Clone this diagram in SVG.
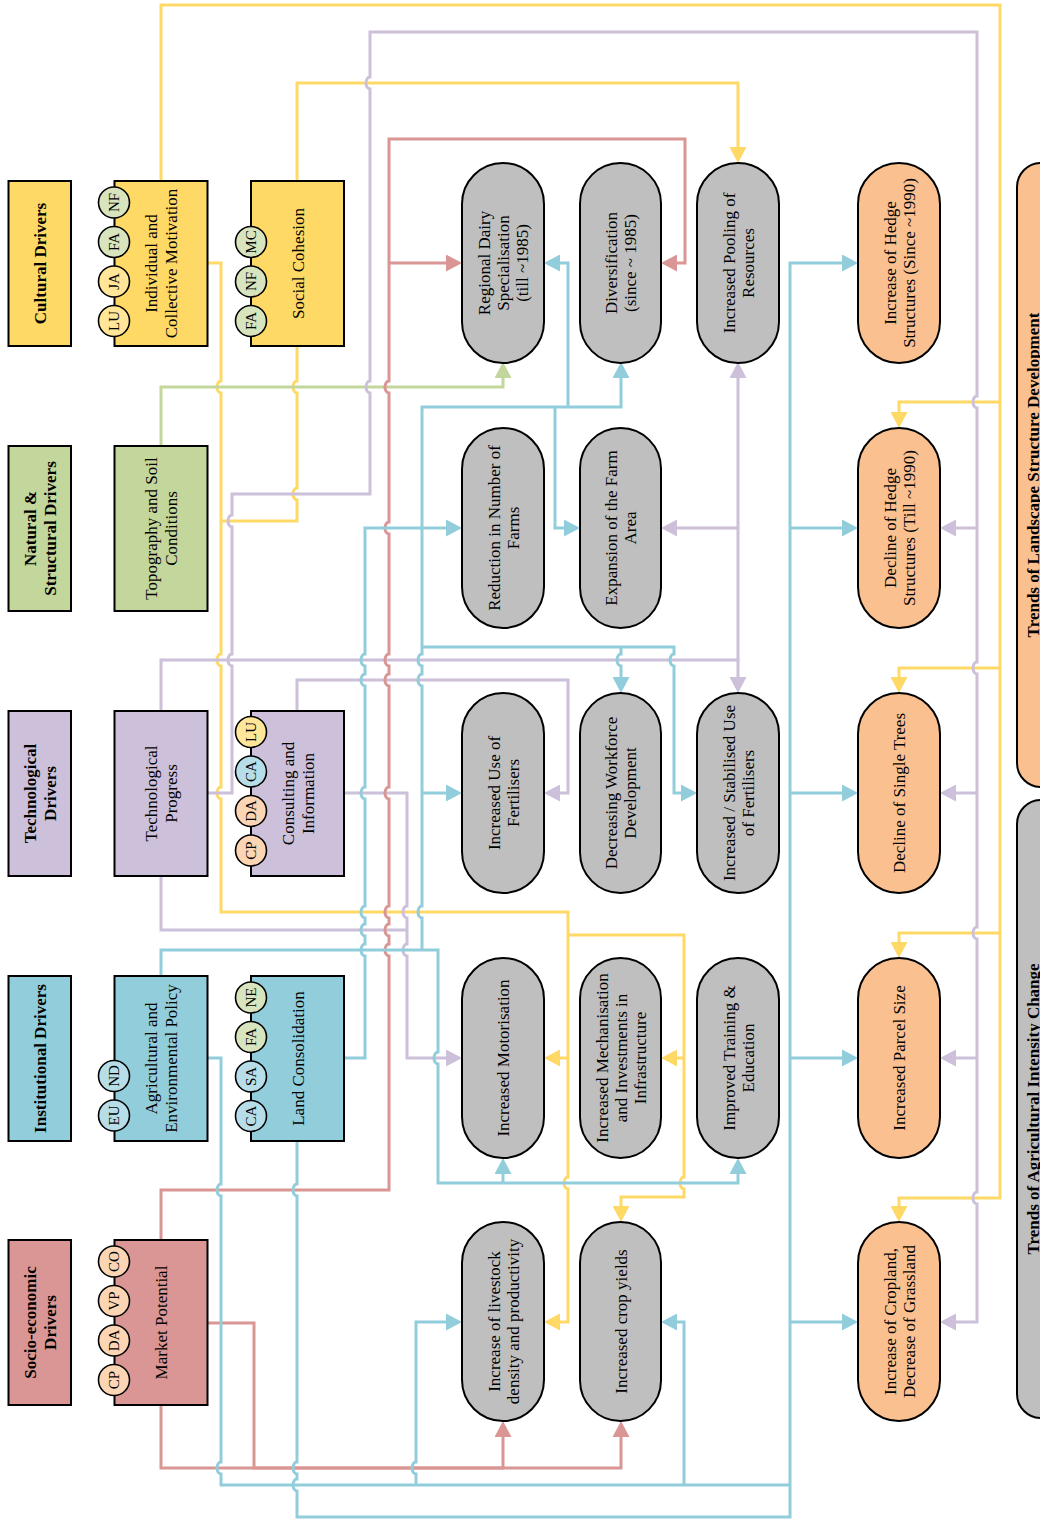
<svg xmlns="http://www.w3.org/2000/svg" width="1040" height="1537" viewBox="0 0 1040 1537">
<style>
.t{font-family:"Liberation Serif","Times New Roman",serif;font-size:17px;fill:#000;text-anchor:middle}
.b{font-weight:bold}
.s{font-size:15px}
.box{stroke:#000;stroke-width:2}
.pill{stroke:#000;stroke-width:2}
.cir{stroke:#000;stroke-width:1.6}
.c{fill:none;stroke-width:3;stroke-linejoin:miter}
.cy{stroke:#FFD966}.cp{stroke:#CCC0DA}.cg{stroke:#C3D69B}.cb{stroke:#92CDDC}.cr{stroke:#D99694}
</style>
<defs>
<marker id="aY" viewBox="0 0 16 17" refX="6" refY="8.5" markerWidth="16" markerHeight="17" markerUnits="userSpaceOnUse" orient="auto"><path d="M0,0 L16,8.5 L0,17 z" fill="#FFD966"/></marker>
<marker id="aP" viewBox="0 0 16 17" refX="6" refY="8.5" markerWidth="16" markerHeight="17" markerUnits="userSpaceOnUse" orient="auto"><path d="M0,0 L16,8.5 L0,17 z" fill="#CCC0DA"/></marker>
<marker id="aG" viewBox="0 0 16 17" refX="6" refY="8.5" markerWidth="16" markerHeight="17" markerUnits="userSpaceOnUse" orient="auto"><path d="M0,0 L16,8.5 L0,17 z" fill="#C3D69B"/></marker>
<marker id="aB" viewBox="0 0 16 17" refX="6" refY="8.5" markerWidth="16" markerHeight="17" markerUnits="userSpaceOnUse" orient="auto"><path d="M0,0 L16,8.5 L0,17 z" fill="#92CDDC"/></marker>
<marker id="aR" viewBox="0 0 16 17" refX="6" refY="8.5" markerWidth="16" markerHeight="17" markerUnits="userSpaceOnUse" orient="auto"><path d="M0,0 L16,8.5 L0,17 z" fill="#D99694"/></marker>
</defs>
<rect width="1040" height="1537" fill="#fff"/>

<g id="connectors">
<!-- yellow -->
<path class="c cy" marker-end="url(#aY)" d="M161,181 V5 H1000 V1198 H899 V1212"/>
<path class="c cy" marker-end="url(#aY)" d="M1000,402 H899 V418"/>
<path class="c cy" marker-end="url(#aY)" d="M1000,668 H899 V683"/>
<path class="c cy" marker-end="url(#aY)" d="M1000,933 H899 V948"/>
<path class="c cy" marker-end="url(#aY)" d="M297,181 V83 H738 V153"/>
<path class="c cy" marker-end="url(#aY)" d="M207,263 H221 V381 a4,6 0 0 0 0,12 V654 a4,6 0 0 0 0,12 V787 a4,6 0 0 0 0,12 V912 H568 V1177 a4,6 0 0 0 0,12 V1322 H554"/>
<path class="c cy" marker-end="url(#aY)" d="M568,1058 H554"/>
<path class="c cy" marker-end="url(#aY)" d="M568,935 H684 V1177 a4,6 0 0 0 0,12 V1197 H621 V1212"/>
<path class="c cy" marker-end="url(#aY)" d="M684,1058 H671"/>
<path class="c cy" d="M297,346 V381 a4,6 0 0 0 0,12 V488 a4,6 0 0 0 0,12 V521 H221"/>
<!-- green -->
<path class="c cg" marker-end="url(#aG)" d="M161,446 V387 H503 V372"/>
<!-- purple -->
<path class="c cp" marker-end="url(#aP)" d="M207,793 H232 V666 a4,6 0 0 1 0,-12 V527 a4,6 0 0 1 0,-12 V494 H370 V393 a4,6 0 0 1 0,-12 V89 a4,6 0 0 1 0,-12 V32 H977 V396 a4,6 0 0 0 0,12 V662 a4,6 0 0 0 0,12 V927 a4,6 0 0 0 0,12 V1192 a4,6 0 0 0 0,12 V1322 H950"/>
<path class="c cp" marker-end="url(#aP)" d="M977,528 H950"/>
<path class="c cp" marker-end="url(#aP)" d="M977,793 H950"/>
<path class="c cp" marker-end="url(#aP)" d="M977,1058 H950"/>
<path class="c cp" marker-end="url(#aP)" d="M161,711 V660 H738 V683"/>
<path class="c cp" marker-end="url(#aP)" d="M738,660 V372"/>
<path class="c cp" marker-end="url(#aP)" d="M738,528 H671"/>
<path class="c cp" marker-end="url(#aP)" d="M344,793 H407 V906 a4,6 0 0 0 0,12 V944 a4,6 0 0 0 0,12 V1058 H452"/>
<path class="c cp" d="M161,876 V930 H407"/>
<path class="c cp" marker-end="url(#aP)" d="M297,711 V680 H568 V793 H554"/>
<!-- red -->
<path class="c cr" marker-end="url(#aR)" d="M161,1240 V1190 H389 V956 a4,6 0 0 1 0,-12 V936 a4,6 0 0 1 0,-12 V918 a4,6 0 0 1 0,-12 V799 a4,6 0 0 1 0,-12 V686 a4,6 0 0 1 0,-12 V666 a4,6 0 0 1 0,-12 V534 a4,6 0 0 1 0,-12 V393 a4,6 0 0 1 0,-12 V139 H685 V263 H671"/>
<path class="c cr" marker-end="url(#aR)" d="M389,263 H452"/>
<path class="c cr" marker-end="url(#aR)" d="M207,1323 H254 V1468 H621 V1431"/>
<path class="c cr" marker-end="url(#aR)" d="M161,1405 V1468 H503 V1431"/>
<!-- blue -->
<path class="c cb" marker-end="url(#aB)" d="M161,976 V950 H438 V1052 a4,6 0 0 0 0,12 V1183 H738 V1168"/>
<path class="c cb" marker-end="url(#aB)" d="M503,1183 V1168"/>
<path class="c cb" marker-end="url(#aB)" d="M422,950 V918 a4,6 0 0 1 0,-12 V686 a4,6 0 0 1 0,-12 V666 a4,6 0 0 1 0,-12 V407 H621 V372"/>
<path class="c cb" marker-end="url(#aB)" d="M568,407 V263 H554"/>
<path class="c cb" marker-end="url(#aB)" d="M555,407 V528 H570"/>
<path class="c cb" marker-end="url(#aB)" d="M422,793 H452"/>
<path class="c cb" marker-end="url(#aB)" d="M422,647 H674 V654 a4,6 0 0 0 0,12 V793 H687"/>
<path class="c cb" marker-end="url(#aB)" d="M621,647 V654 a4,6 0 0 0 0,12 V683"/>
<path class="c cb" marker-end="url(#aB)" d="M344,1058 H365 V956 a4,6 0 0 1 0,-12 V936 a4,6 0 0 1 0,-12 V918 a4,6 0 0 1 0,-12 V799 a4,6 0 0 1 0,-12 V686 a4,6 0 0 1 0,-12 V666 a4,6 0 0 1 0,-12 V528 H452"/>
<path class="c cb" d="M207,1058 H221 V1184 a4,6 0 0 0 0,12 V1462 a4,6 0 0 0 0,12 V1485 H790"/>
<path class="c cb" marker-end="url(#aB)" d="M416,1485 V1474 a4,6 0 0 1 0,-12 V1322 H452"/>
<path class="c cb" marker-end="url(#aB)" d="M684,1485 V1322 H671"/>
<path class="c cb" marker-end="url(#aB)" d="M297,1140 V1184 a4,6 0 0 0 0,12 V1462 a4,6 0 0 0 0,12 V1479 a4,6 0 0 0 0,12 V1517 H790 V263 H848"/>
<path class="c cb" marker-end="url(#aB)" d="M790,528 H848"/>
<path class="c cb" marker-end="url(#aB)" d="M790,793 H848"/>
<path class="c cb" marker-end="url(#aB)" d="M790,1058 H848"/>
<path class="c cb" marker-end="url(#aB)" d="M790,1322 H848"/>
</g>

<!-- category boxes -->
<g id="cat-cultural"><rect class="box" x="8.5" y="181" width="62.5" height="165" fill="#FFD966"/>
<text class="t b" transform="translate(40,263.5) rotate(-90)"><tspan x="0" y="6">Cultural Drivers</tspan></text></g>
<g id="cat-natural"><rect class="box" x="8.5" y="446" width="62.5" height="165" fill="#C3D69B"/>
<text class="t b" transform="translate(40,528.5) rotate(-90)"><tspan x="0" y="-4">Natural &amp;</tspan><tspan x="0" y="16">Structural Drivers</tspan></text></g>
<g id="cat-tech"><rect class="box" x="8.5" y="711" width="62.5" height="165" fill="#CCC0DA"/>
<text class="t b" transform="translate(40,793.5) rotate(-90)"><tspan x="0" y="-4">Technological</tspan><tspan x="0" y="16">Drivers</tspan></text></g>
<g id="cat-inst"><rect class="box" x="8.5" y="976" width="62.5" height="165" fill="#92CDDC"/>
<text class="t b" transform="translate(40,1058.5) rotate(-90)"><tspan x="0" y="6">Institutional Drivers</tspan></text></g>
<g id="cat-socio"><rect class="box" x="8.5" y="1240" width="62.5" height="165" fill="#D99694"/>
<text class="t b" transform="translate(40,1322.5) rotate(-90)"><tspan x="0" y="-4">Socio-economic</tspan><tspan x="0" y="16">Drivers</tspan></text></g>

<!-- driver boxes -->
<g id="individual"><rect class="box" x="114.5" y="181" width="93" height="165" fill="#FFD966"/>
<text class="t" transform="translate(161,263.5) rotate(-90)"><tspan x="0" y="-4">Individual and</tspan><tspan x="0" y="16">Collective Motivation</tspan></text>
<circle class="cir" cx="114" cy="202.5" r="15.5" fill="#D7E4BD"/><text class="t s" transform="translate(114,202.5) rotate(-90)" y="5">NF</text>
<circle class="cir" cx="114" cy="242" r="15.5" fill="#D7E4BD"/><text class="t s" transform="translate(114,242) rotate(-90)" y="5">FA</text>
<circle class="cir" cx="114" cy="281.5" r="15.5" fill="#FFE699"/><text class="t s" transform="translate(114,281.5) rotate(-90)" y="5">JA</text>
<circle class="cir" cx="114" cy="321" r="15.5" fill="#FFE699"/><text class="t s" transform="translate(114,321) rotate(-90)" y="5">LU</text></g>

<g id="social"><rect class="box" x="251" y="181" width="93" height="165" fill="#FFD966"/>
<text class="t" transform="translate(297.5,263.5) rotate(-90)"><tspan x="0" y="6">Social Cohesion</tspan></text>
<circle class="cir" cx="251" cy="242" r="15.5" fill="#D7E4BD"/><text class="t s" transform="translate(251,242) rotate(-90)" y="5">MC</text>
<circle class="cir" cx="251" cy="281.5" r="15.5" fill="#D7E4BD"/><text class="t s" transform="translate(251,281.5) rotate(-90)" y="5">NF</text>
<circle class="cir" cx="251" cy="321" r="15.5" fill="#D7E4BD"/><text class="t s" transform="translate(251,321) rotate(-90)" y="5">FA</text></g>

<g id="topography"><rect class="box" x="114.5" y="446" width="93" height="165" fill="#C3D69B"/>
<text class="t" transform="translate(161,528.5) rotate(-90)"><tspan x="0" y="-4">Topography and Soil</tspan><tspan x="0" y="16">Conditions</tspan></text></g>

<g id="techprogress"><rect class="box" x="114.5" y="711" width="93" height="165" fill="#CCC0DA"/>
<text class="t" transform="translate(161,793.5) rotate(-90)"><tspan x="0" y="-4">Technological</tspan><tspan x="0" y="16">Progress</tspan></text></g>

<g id="consulting"><rect class="box" x="251" y="711" width="93" height="165" fill="#CCC0DA"/>
<text class="t" transform="translate(297.5,793.5) rotate(-90)"><tspan x="0" y="-4">Consulting and</tspan><tspan x="0" y="16">Information</tspan></text>
<circle class="cir" cx="251" cy="732" r="15.5" fill="#FFE699"/><text class="t s" transform="translate(251,732) rotate(-90)" y="5">LU</text>
<circle class="cir" cx="251" cy="771.5" r="15.5" fill="#B7DEE8"/><text class="t s" transform="translate(251,771.5) rotate(-90)" y="5">CA</text>
<circle class="cir" cx="251" cy="811" r="15.5" fill="#FCD5B5"/><text class="t s" transform="translate(251,811) rotate(-90)" y="5">DA</text>
<circle class="cir" cx="251" cy="850.5" r="15.5" fill="#FCD5B5"/><text class="t s" transform="translate(251,850.5) rotate(-90)" y="5">CP</text></g>

<g id="agripolicy"><rect class="box" x="114.5" y="976" width="93" height="165" fill="#92CDDC"/>
<text class="t" transform="translate(161,1058.5) rotate(-90)"><tspan x="0" y="-4">Agricultural and</tspan><tspan x="0" y="16">Environmental Policy</tspan></text>
<circle class="cir" cx="114" cy="1076" r="15.5" fill="#B7DEE8"/><text class="t s" transform="translate(114,1076) rotate(-90)" y="5">ND</text>
<circle class="cir" cx="114" cy="1115.5" r="15.5" fill="#B7DEE8"/><text class="t s" transform="translate(114,1115.5) rotate(-90)" y="5">EU</text></g>

<g id="landcons"><rect class="box" x="251" y="976" width="93" height="165" fill="#92CDDC"/>
<text class="t" transform="translate(297.5,1058.5) rotate(-90)"><tspan x="0" y="6">Land Consolidation</tspan></text>
<circle class="cir" cx="251" cy="997.5" r="15.5" fill="#D7E4BD"/><text class="t s" transform="translate(251,997.5) rotate(-90)" y="5">NE</text>
<circle class="cir" cx="251" cy="1037" r="15.5" fill="#D7E4BD"/><text class="t s" transform="translate(251,1037) rotate(-90)" y="5">FA</text>
<circle class="cir" cx="251" cy="1076.5" r="15.5" fill="#B7DEE8"/><text class="t s" transform="translate(251,1076.5) rotate(-90)" y="5">SA</text>
<circle class="cir" cx="251" cy="1116" r="15.5" fill="#B7DEE8"/><text class="t s" transform="translate(251,1116) rotate(-90)" y="5">CA</text></g>

<g id="market"><rect class="box" x="114.5" y="1240" width="93" height="165" fill="#D99694"/>
<text class="t" transform="translate(161,1322.5) rotate(-90)"><tspan x="0" y="6">Market Potential</tspan></text>
<circle class="cir" cx="114" cy="1261.5" r="15.5" fill="#FCD5B5"/><text class="t s" transform="translate(114,1261.5) rotate(-90)" y="5">CO</text>
<circle class="cir" cx="114" cy="1301" r="15.5" fill="#FCD5B5"/><text class="t s" transform="translate(114,1301) rotate(-90)" y="5">VP</text>
<circle class="cir" cx="114" cy="1340.5" r="15.5" fill="#FCD5B5"/><text class="t s" transform="translate(114,1340.5) rotate(-90)" y="5">DA</text>
<circle class="cir" cx="114" cy="1380" r="15.5" fill="#FCD5B5"/><text class="t s" transform="translate(114,1380) rotate(-90)" y="5">CP</text></g>

<!-- gray effect pills -->
<g id="dairy"><rect class="pill" x="462" y="163" width="82" height="200" rx="41" fill="#BFBFBF"/>
<text class="t" transform="translate(503,263) rotate(-90)"><tspan x="0" y="-13">Regional Dairy</tspan><tspan x="0" y="6">Specialisation</tspan><tspan x="0" y="25">(till ~1985)</tspan></text></g>
<g id="diversification"><rect class="pill" x="580" y="163" width="81" height="200" rx="40.5" fill="#BFBFBF"/>
<text class="t" transform="translate(620.5,263) rotate(-90)"><tspan x="0" y="-3.5">Diversification</tspan><tspan x="0" y="15.5">(since ~ 1985)</tspan></text></g>
<g id="pooling"><rect class="pill" x="697" y="163" width="82" height="200" rx="41" fill="#BFBFBF"/>
<text class="t" transform="translate(738,263) rotate(-90)"><tspan x="0" y="-3.5">Increased Pooling of</tspan><tspan x="0" y="15.5">Resources</tspan></text></g>
<g id="reduction"><rect class="pill" x="462" y="428" width="82" height="200" rx="41" fill="#BFBFBF"/>
<text class="t" transform="translate(503,528) rotate(-90)"><tspan x="0" y="-3.5">Reduction in Number of</tspan><tspan x="0" y="15.5">Farms</tspan></text></g>
<g id="expansion"><rect class="pill" x="580" y="428" width="81" height="200" rx="40.5" fill="#BFBFBF"/>
<text class="t" transform="translate(620.5,528) rotate(-90)"><tspan x="0" y="-3.5">Expansion of the Farm</tspan><tspan x="0" y="15.5">Area</tspan></text></g>
<g id="fertilisers"><rect class="pill" x="462" y="693" width="82" height="200" rx="41" fill="#BFBFBF"/>
<text class="t" transform="translate(503,793) rotate(-90)"><tspan x="0" y="-3.5">Increased Use of</tspan><tspan x="0" y="15.5">Fertilisers</tspan></text></g>
<g id="workforce"><rect class="pill" x="580" y="693" width="81" height="200" rx="40.5" fill="#BFBFBF"/>
<text class="t" transform="translate(620.5,793) rotate(-90)"><tspan x="0" y="-3.5">Decreasing Workforce</tspan><tspan x="0" y="15.5">Development</tspan></text></g>
<g id="stabilised"><rect class="pill" x="697" y="693" width="82" height="200" rx="41" fill="#BFBFBF"/>
<text class="t" transform="translate(738,793) rotate(-90)"><tspan x="0" y="-3.5">Increased / Stabilised Use</tspan><tspan x="0" y="15.5">of Fertilisers</tspan></text></g>
<g id="motorisation"><rect class="pill" x="462" y="958" width="82" height="200" rx="41" fill="#BFBFBF"/>
<text class="t" transform="translate(503,1058) rotate(-90)"><tspan x="0" y="6">Increased Motorisation</tspan></text></g>
<g id="mechanisation"><rect class="pill" x="580" y="958" width="81" height="200" rx="40.5" fill="#BFBFBF"/>
<text class="t" transform="translate(620.5,1058) rotate(-90)"><tspan x="0" y="-13">Increased Mechanisation</tspan><tspan x="0" y="6">and Investments in</tspan><tspan x="0" y="25">Infrastructure</tspan></text></g>
<g id="training"><rect class="pill" x="697" y="958" width="82" height="200" rx="41" fill="#BFBFBF"/>
<text class="t" transform="translate(738,1058) rotate(-90)"><tspan x="0" y="-3.5">Improved Training &amp;</tspan><tspan x="0" y="15.5">Education</tspan></text></g>
<g id="livestock"><rect class="pill" x="462" y="1222" width="82" height="199" rx="41" fill="#BFBFBF"/>
<text class="t" transform="translate(503,1321.5) rotate(-90)"><tspan x="0" y="-3.5">Increase of livestock</tspan><tspan x="0" y="15.5">density and productivity</tspan></text></g>
<g id="cropyields"><rect class="pill" x="580" y="1222" width="81" height="199" rx="40.5" fill="#BFBFBF"/>
<text class="t" transform="translate(620.5,1321.5) rotate(-90)"><tspan x="0" y="6">Increased crop yields</tspan></text></g>

<!-- orange landscape pills -->
<g id="hedge-inc"><rect class="pill" x="858" y="163" width="82" height="200" rx="41" fill="#FAC090"/>
<text class="t" transform="translate(899,263) rotate(-90)"><tspan x="0" y="-3.5">Increase of Hedge</tspan><tspan x="0" y="15.5">Structures (Since ~1990)</tspan></text></g>
<g id="hedge-dec"><rect class="pill" x="858" y="428" width="82" height="200" rx="41" fill="#FAC090"/>
<text class="t" transform="translate(899,528) rotate(-90)"><tspan x="0" y="-3.5">Decline of Hedge</tspan><tspan x="0" y="15.5">Structures (Till ~1990)</tspan></text></g>
<g id="trees"><rect class="pill" x="858" y="693" width="82" height="200" rx="41" fill="#FAC090"/>
<text class="t" transform="translate(899,793) rotate(-90)"><tspan x="0" y="6">Decline of Single Trees</tspan></text></g>
<g id="parcel"><rect class="pill" x="858" y="958" width="82" height="200" rx="41" fill="#FAC090"/>
<text class="t" transform="translate(899,1058) rotate(-90)"><tspan x="0" y="6">Increased Parcel Size</tspan></text></g>
<g id="cropland"><rect class="pill" x="858" y="1222" width="82" height="199" rx="41" fill="#FAC090"/>
<text class="t" transform="translate(899,1321.5) rotate(-90)"><tspan x="0" y="-3.5">Increase of Cropland,</tspan><tspan x="0" y="15.5">Decrease of Grassland</tspan></text></g>

<!-- trend bars -->
<g id="trend-landscape"><rect class="pill" x="1017" y="163" width="70" height="624" rx="24" fill="#FAC090"/>
<text class="t b" transform="translate(1039,475) rotate(-90)">Trends of Landscape Structure Development</text></g>
<g id="trend-intensity"><rect class="pill" x="1017" y="800" width="70" height="618" rx="24" fill="#BFBFBF"/>
<text class="t b" transform="translate(1039,1109) rotate(-90)">Trends of Agricultural Intensity Change</text></g>
</svg>
